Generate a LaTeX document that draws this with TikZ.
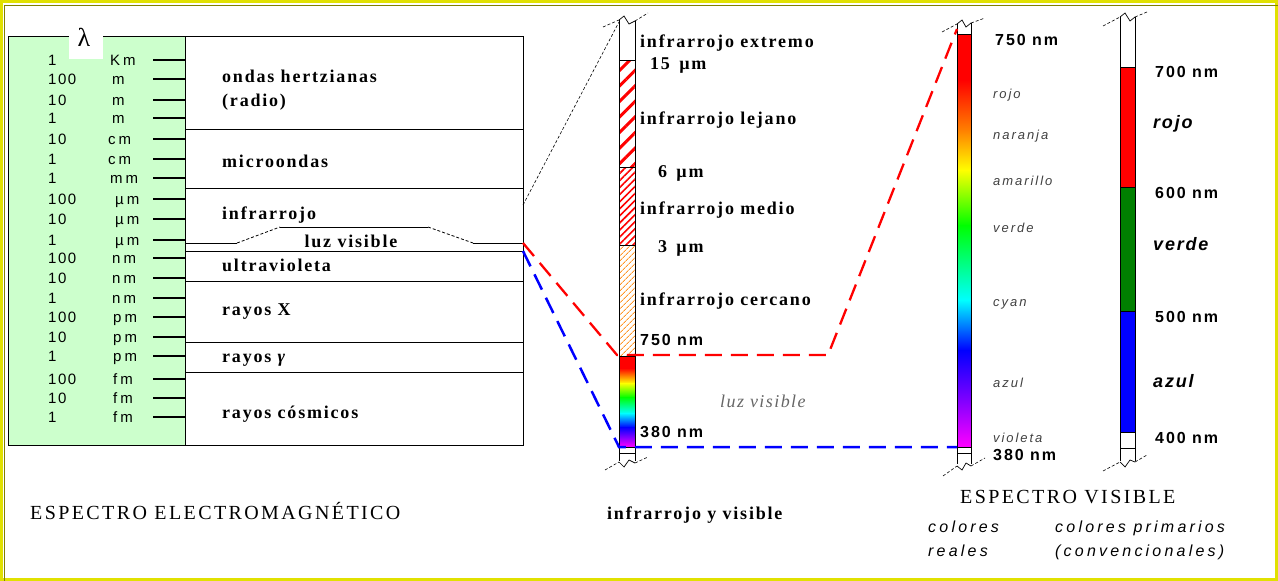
\documentclass[tikz,border=0pt]{standalone}
\usepackage{fontspec}
\setmainfont{Liberation Serif}
\setsansfont{Liberation Sans}
\usetikzlibrary{patterns.meta}
\newfontfamily\lblfont[LetterSpace=10]{Liberation Serif}
\newfontfamily\numfont[LetterSpace=10]{Liberation Sans}
\newfontfamily\unitfont[LetterSpace=20]{Liberation Sans}
\newfontfamily\nmfont[LetterSpace=12]{Liberation Sans}
\newfontfamily\tinyfont[LetterSpace=15]{Liberation Sans}
\newfontfamily\primfont[LetterSpace=10]{Liberation Sans}
\newfontfamily\capfont[LetterSpace=12]{Liberation Serif}
\newfontfamily\colfont[LetterSpace=20]{Liberation Sans}
\newfontfamily\lvfont[LetterSpace=8]{Liberation Serif}
\definecolor{yframe}{RGB}{225,225,0}
\definecolor{oframe}{RGB}{128,128,0}
\definecolor{lgreen}{RGB}{204,255,204}
\definecolor{sred}{RGB}{255,0,0}
\definecolor{sorange}{RGB}{255,128,0}
\definecolor{syellow}{RGB}{255,255,0}
\definecolor{sgreen}{RGB}{0,255,0}
\definecolor{scyan}{RGB}{0,255,255}
\definecolor{sblue}{RGB}{0,0,255}
\definecolor{sviolet}{RGB}{128,0,255}
\definecolor{smagenta}{RGB}{255,0,255}
\definecolor{pgreen}{RGB}{0,128,0}
\definecolor{hatchor}{RGB}{255,150,40}
\begin{document}
\begin{tikzpicture}[x=1pt,y=-1pt,
  lbl/.style={anchor=base west,inner sep=0,font=\lblfont\bfseries\fontsize{18}{20}\selectfont},
  num/.style={anchor=base west,inner sep=0,font=\numfont\fontsize{15}{17}\selectfont},
  unit/.style={anchor=base west,inner sep=0,font=\unitfont\fontsize{15}{17}\selectfont},
  nmlbl/.style={anchor=base west,inner sep=0,font=\nmfont\bfseries\fontsize{16}{18}\selectfont},
  tinylbl/.style={anchor=base west,inner sep=0,text=black!75,font=\tinyfont\itshape\fontsize{13}{15}\selectfont},
  primlbl/.style={anchor=base west,inner sep=0,font=\primfont\bfseries\itshape\fontsize{18}{20}\selectfont},
  caplbl/.style={anchor=base west,inner sep=0,font=\capfont\fontsize{20}{22}\selectfont},
  collbl/.style={anchor=base west,inner sep=0,font=\colfont\itshape\fontsize{16}{18}\selectfont},
  lvlbl/.style={anchor=base west,inner sep=0,text=black!60,font=\lvfont\itshape\fontsize{18}{20}\selectfont},
  tick/.style={line width=1.3pt},
  thin/.style={line width=0.8pt},
  brk/.style={line width=0.6pt,densely dashed},
  brkz/.style={line width=0.7pt},
  reddash/.style={draw=sred,line width=2.3pt,dash pattern=on 17pt off 9pt},
  bluedash/.style={draw=sblue,line width=2.5pt,dash pattern=on 17pt off 9pt},
]
\useasboundingbox (0,0) rectangle (1278,581);
% frame
\draw[yframe,line width=3pt] (1.5,1.5) rectangle (1276.5,579.5);
\draw[oframe,line width=1.5pt] (4.5,581) -- (4.5,5.5) -- (1278,5.5);

% ---------- left table ----------
\node[draw,fill=lgreen,line width=1pt,inner sep=0,minimum width=177pt,minimum height=409pt,anchor=north west] (lamcol) at (8,36) {};
\node[draw,line width=1pt,inner sep=0,minimum width=338pt,minimum height=409pt,anchor=north west] (bands) at (185,36) {};
\node[fill=white,inner sep=0,minimum width=34pt,minimum height=26pt,anchor=north west] (lamback) at (69,33) {};
\node[inner sep=0,font=\fontsize{26}{28}\selectfont] (lam) at (84,37) {λ};

\foreach \y/\n/\ux/\u [count=\i] in {60/1/110/Km,79/100/112/m,100/10/112/m,118/1/112/m,139/10/108/cm,159/1/108/cm,178/1/110/mm,199/100/115/µm,219/10/115/µm,240/1/115/µm,258/100/112/nm,278/10/112/nm,298/1/112/nm,317/100/113/pm,337/10/113/pm,356/1/113/pm,379/100/113/fm,398/10/113/fm,417/1/113/fm}{
  \node[num] (n\i) at (48,\y+5.5) {\n};
  \node[unit] (u\i) at (\ux,\y+5.5) {\u};
  \draw[tick] (153,\y) -- (185,\y);
}

% band dividers
\draw[thin] (185,129) -- (523,129);
\draw[thin] (185,188) -- (523,188);
\draw[thin] (185,243) -- (237,243);
\draw[thin,densely dashed] (237,243) -- (280,227);
\draw[thin] (280,227) -- (428,227);
\draw[thin,densely dashed] (428,227) -- (473,243);
\draw[thin] (473,243) -- (523,243);
\draw[thin] (185,251) -- (523,251);
\draw[thin] (185,281) -- (523,281);
\draw[thin] (185,342) -- (523,342);
\draw[thin] (185,372) -- (523,372);

\node[lbl] (t1) at (222,82) {ondas hertzianas};
\node[lbl] (t2) at (222,106) {(radio)};
\node[lbl] (t3) at (222,167) {microondas};
\node[lbl] (t4) at (222,219) {infrarrojo};
\node[lbl,anchor=base] (t5) at (351,247) {luz visible};
\node[lbl] (t6) at (222,271) {ultravioleta};
\node[lbl] (t7) at (222,315) {rayos X};
\node[lbl] (t8) at (222,362) {rayos {\itshape γ}};
\node[lbl] (t9) at (222,418) {rayos cósmicos};

\node[caplbl] (cap1) at (30,519) {ESPECTRO ELECTROMAGNÉTICO};

% ---------- middle column ----------
\fill[white] (619,22) rectangle (635,60);
\fill[pattern={Lines[angle=45,distance=11pt,line width=3pt]},pattern color=sred] (619,60) rectangle (635,167);
\fill[pattern={Lines[angle=45,distance=5pt,line width=1.6pt]},pattern color=sred] (619,167) rectangle (635,245);
\fill[pattern={Lines[angle=45,distance=4pt,line width=1pt]},pattern color=hatchor] (619,245) rectangle (635,356);
\foreach \ya/\yb/\ca/\cb in {356/368.5/sred/sred,368/383.5/sred/syellow,383/397.5/syellow/sgreen,397/413.5/sgreen/scyan,413/427.5/scyan/sblue,427/447/sblue/smagenta}{
  \shade[top color=\ca,bottom color=\cb] (619,\ya) rectangle (635,\yb);
}
\draw[thin] (619,20) -- (619,461);
\draw[thin] (635,21) -- (635,461);
\foreach \y in {60,167,245,356,447,453}{\draw[thin] (619,\y) -- (635,\y);}
\draw[brk] (603,27) -- (619,20);
\draw[brkz] (619,20) -- (624,16) -- (629,24) -- (635,21);
\draw[brk] (635,21) -- (648,13);
\draw[brk] (605,470) -- (619,462);
\draw[brkz] (619,462) -- (624,467) -- (629,460) -- (635,463);
\draw[brk] (635,463) -- (648,457);

\node[lbl] (m1) at (640,47) {infrarrojo extremo};
\node[lbl] (m2) at (650,69) {15 \,µm};
\node[lbl] (m3) at (640,124) {infrarrojo lejano};
\node[lbl] (m4) at (658,177) {6 \,µm};
\node[lbl] (m5) at (640,214) {infrarrojo medio};
\node[lbl] (m6) at (658,252) {3 \,µm};
\node[lbl] (m7) at (640,305) {infrarrojo cercano};
\node[nmlbl] (m8) at (640,345) {750 nm};
\node[lvlbl] (m9) at (720,407) {luz visible};
\node[nmlbl] (m10) at (640,437) {380 nm};
\node[lbl] (cap2) at (607,519) {infrarrojo y visible};

% ---------- right spectrum column ----------
\fill[white] (957,24) rectangle (971,34);
\foreach \ya/\yb/\ca/\cb in {34/80.5/sred/sred,80/130.5/sred/sorange,130/170.5/sorange/syellow,170/225.5/syellow/sgreen,225/300.5/sgreen/scyan,300/350.5/scyan/sblue,350/400.5/sblue/sviolet,400/447/sviolet/smagenta}{
  \shade[top color=\ca,bottom color=\cb] (957,\ya) rectangle (971,\yb);
}
\draw[thin] (957,24) -- (957,464);
\draw[thin] (971,23) -- (971,464);
\foreach \y in {34,447,453}{\draw[thin] (957,\y) -- (971,\y);}
\draw[brk] (942,32) -- (957,24);
\draw[brkz] (957,24) -- (962,20) -- (966,27) -- (971,23);
\draw[brk] (971,23) -- (985,18);
\draw[brk] (943,476) -- (957,466);
\draw[brkz] (957,466) -- (962,470) -- (966,463) -- (971,466);
\draw[brk] (971,466) -- (985,458);

\node[nmlbl] (r1) at (995,45) {750 nm};
\node[tinylbl] (r2) at (993,98) {rojo};
\node[tinylbl] (r3) at (993,139) {naranja};
\node[tinylbl] (r4) at (993,185) {amarillo};
\node[tinylbl] (r5) at (993,232) {verde};
\node[tinylbl] (r6) at (993,306) {cyan};
\node[tinylbl] (r7) at (993,387) {azul};
\node[tinylbl] (r8) at (993,442) {violeta};
\node[nmlbl] (r9) at (993,460) {380 nm};

% ---------- primaries column ----------
\fill[sred] (1120,67) rectangle (1135,187);
\fill[pgreen] (1120,187) rectangle (1135,311);
\fill[sblue] (1120,311) rectangle (1135,432);
\draw[thin] (1120,17) -- (1120,461);
\draw[thin] (1135,17) -- (1135,461);
\foreach \y in {67,187,311,432,448}{\draw[thin] (1120,\y) -- (1135,\y);}
\draw[brk] (1103,26) -- (1120,17);
\draw[brkz] (1120,17) -- (1125,13) -- (1130,21) -- (1135,17);
\draw[brk] (1135,17) -- (1147,12);
\draw[brk] (1103,471) -- (1120,462);
\draw[brkz] (1120,462) -- (1125,467) -- (1130,460) -- (1135,462);
\draw[brk] (1135,462) -- (1147,455);

\node[nmlbl] (p1) at (1155,77) {700 nm};
\node[primlbl] (p2) at (1153,128) {rojo};
\node[nmlbl] (p3) at (1155,198) {600 nm};
\node[primlbl] (p4) at (1153,250) {verde};
\node[nmlbl] (p5) at (1155,322) {500 nm};
\node[primlbl] (p6) at (1153,387) {azul};
\node[nmlbl] (p7) at (1155,443) {400 nm};

\node[caplbl] (cap3) at (960,503) {ESPECTRO VISIBLE};
\node[collbl] (c1) at (928,532) {colores};
\node[collbl] (c2) at (928,556) {reales};
\node[collbl] (c3) at (1055,532) {colores primarios};
\node[collbl] (c4) at (1055,556) {(convencionales)};

% ---------- connectors ----------
\coordinate (irtop) at (523,205);
\coordinate (vistop) at (523,243);
\coordinate (visbot) at (523,251);
\coordinate (m750) at (617,355);
\coordinate (m380) at (619,447);
\coordinate (kink) at (828,355);
\coordinate (s750) at (957,29);
\coordinate (s380) at (957,447);
\coordinate (colTop) at (619,22);
\draw[line width=0.6pt,densely dashed] (irtop) -- (colTop);
\draw[reddash] (vistop) -- (m750) -- (kink) -- (s750);
\draw[bluedash] (visbot) -- (m380) -- (s380);
\end{tikzpicture}
\end{document}
